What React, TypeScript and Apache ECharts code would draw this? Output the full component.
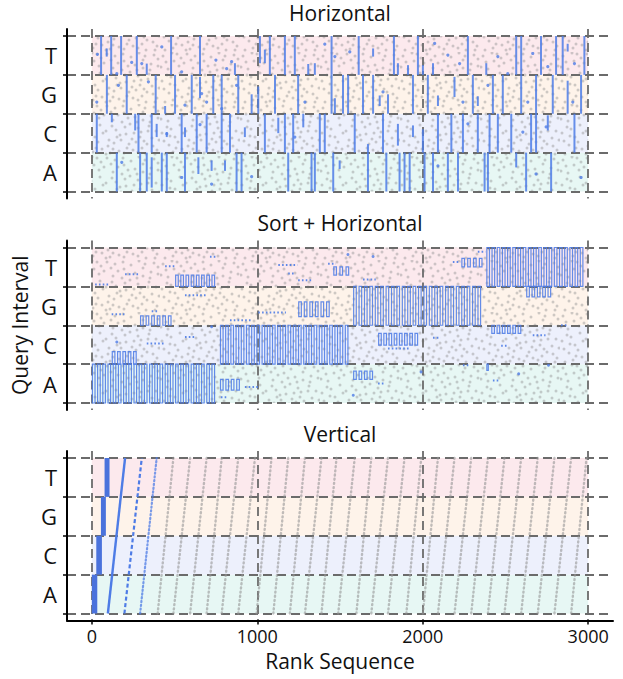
import React, { useEffect, useRef } from "react";
import * as echarts from "echarts";

// ---------------- data ----------------
const BANDS = ["A", "C", "G", "T"];
const BAND_EDGES = [0, 1, 2, 3, 4];
const BAND_CENTERS = [0.5, 1.5, 2.5, 3.5];
const X_TICKS = [0, 1000, 2000, 3000];
const RANK_RANGE = [0, 3000];
const PANEL_TITLES = ["Horizontal", "Sort + Horizontal", "Vertical"];

// Panel 1 (Horizontal): ranks where a blue run spans the full band
const H_FULL_A = [151, 292, 332, 423, 453, 563, 875, 905, 1187, 1328, 1348, 1459, 1669, 1780, 1860, 1890, 1921, 2011, 2062, 2152, 2213, 2374, 2394, 2625, 2776];
const H_FULL_C = [30, 282, 362, 543, 634, 694, 785, 835, 1046, 1167, 1217, 1378, 1408, 1589, 1760, 2092, 2173, 2243, 2333, 2404, 2454, 2535, 2655, 2685, 2917];
const H_FULL_G = [91, 211, 386, 503, 604, 734, 785, 885, 1107, 1247, 1449, 1518, 1549, 1639, 1700, 1941, 2031, 2303, 2424, 2484, 2595, 2685, 2786, 2957];
const H_FULL_T = [56, 117, 177, 272, 479, 654, 1076, 1167, 1227, 1449, 1613, 1826, 1971, 2273, 2565, 2595, 2715, 2806, 2846, 2977];
// partial runs: [rank, from, to]
const H_PART = [
  [90, 3.47, 3.68], [332, 3, 3.29], [865, 3, 3.3], [1016, 3.3, 4], [1046, 3.3, 3.65], [1308, 3, 3.28], [1348, 3, 3.3],
  [1700, 3.47, 3.68], [1850, 3, 3.3], [1911, 3, 3.25], [2001, 3, 3.25], [2062, 3, 3.3], [2384, 3, 3.3], [2876, 3.6, 3.8],
  [443, 2, 2.2], [654, 2.4, 2.95], [966, 2, 2.5], [1006, 2, 2.7], [1469, 2, 2.4], [1740, 2.2, 2.47], [1790, 2, 2.5],
  [2092, 2.2, 2.47], [2192, 2.43, 2.95], [2333, 2.2, 2.45], [2876, 2, 2.85],
  [121, 1.78, 2], [262, 1.57, 2], [392, 1.4, 1.74], [453, 1.4, 1.53], [563, 1.4, 1.65], [925, 1.4, 1.65], [1127, 1.5, 1.9],
  [1278, 1.65, 2], [1669, 1, 1.22], [1850, 1.18, 1.74], [1941, 1.4, 1.7], [2001, 1, 1.6], [2756, 1.57, 1.96],
  [362, 0.1, 0.88], [644, 0.45, 0.88], [724, 0.53, 0.8], [805, 0.53, 0.8], [1498, 0.58, 0.8], [2565, 0.62, 1],
];
// isolated blue hits: [rank, position]
const H_DOTS = [
  [34, 3.53], [241, 3.32], [302, 3.29], [151, 3.03], [423, 3.72], [543, 3.08], [750, 3.38], [815, 3.16], [845, 3.34],
  [1408, 3.79], [1469, 3.47], [1559, 3.59], [2072, 3.81], [2152, 3.51], [2223, 3.29], [2454, 3.47], [2514, 3.03],
  [2665, 3.55], [2756, 3.21], [2917, 3.29],
  [30, 2.3], [161, 2.73], [342, 2.82], [563, 2.22], [664, 2.52], [694, 2.3], [875, 2.73], [785, 2.13], [1288, 2.3],
  [1760, 2.56], [2243, 2.3], [2635, 2.3], [2907, 2.3], [2394, 2.73],
  [453, 1.48], [654, 1.72], [1227, 1.4], [2273, 1.74], [2746, 1.66], [2605, 1.53],
  [181, 0.75], [543, 0.36], [724, 0.19], [966, 0.38], [2092, 0.66], [2685, 0.45], [2957, 0.36],
];

// Panel 2 (Sort + Horizontal): blocks of runs [rankFrom, rankTo, posFrom, posTo]
const S_BLOCKS = [
  [0, 754, 0, 1], [774, 905, 0.33, 0.61], [1579, 1710, 0.61, 0.82], [2384, 2394, 0.84, 1],
  [774, 1560, 1, 2], [120, 281, 1, 1.32], [1730, 1981, 1.49, 1.79], [2414, 2605, 1.79, 2],
  [1579, 2363, 2, 3], [291, 493, 2, 2.24], [1247, 1449, 2.22, 2.6], [2625, 2786, 2.73, 3],
  [2384, 2980, 3, 4], [503, 754, 3, 3.29], [1459, 1570, 3.29, 3.5], [2233, 2374, 3.5, 3.72],
];
// rows of blue hits [rankFrom, rankTo, position]
const S_DOT_RUNS = [
  [925, 1000, 0.41], [780, 810, 0.15], [1730, 1770, 0.5], [2243, 2283, 0.97], [2424, 2454, 0.58],
  [332, 432, 1.53], [563, 624, 1.7], [1790, 1921, 1.4], [2062, 2102, 1.68], [2474, 2514, 1.47], [2665, 2736, 1.74],
  [835, 965, 2.13], [120, 191, 2.28], [362, 392, 2.36], [563, 694, 2.77], [1006, 1167, 2.33], [2836, 2876, 2.0],
  [20, 100, 3.05], [201, 282, 3.31], [443, 493, 3.52], [714, 754, 3.76], [1127, 1237, 3.55], [1187, 1227, 3.33],
  [1247, 1328, 3.16], [1428, 1469, 3.58], [1639, 1710, 3.18], [2182, 2223, 3.63], [2333, 2374, 3.89],
];
const S_DOTS = [[151, 1.57], [724, 1.96], [1990, 0.8], [1580, 0.2], [2580, 0.75], [2760, 0.97], [1548, 3.82], [1700, 3.77]];

// Panel 3 (Vertical)
const V_BARS = [[0, 33, 0], [27, 61, 1], [55, 85, 2], [77, 107, 3]]; // [rankFrom, rankTo, band]
const V_SWEEP_SOLID = [[97, 201]];
const V_SWEEP_DASHED = [[197, 302]];
const V_SWEEP_FAINT = [[292, 392]];
const V_SWEEP_GRAY = [
  [398, 493], [493, 594], [594, 694], [694, 785], [785, 885], [885, 986], [996, 1086], [1097, 1187], [1197, 1288],
  [1288, 1388], [1388, 1479], [1489, 1589], [1599, 1689], [1689, 1790], [1790, 1890], [1901, 1991], [2001, 2092],
  [2092, 2192], [2192, 2293], [2293, 2394], [2394, 2494], [2494, 2595], [2595, 2695], [2695, 2796], [2796, 2897], [2897, 2990],
];

// ---------------- style ----------------
const FONT = '"Open Sans", "Noto Sans", sans-serif';
const BLUE = "#4e7ce6";
const BAND_FILLS = ["#e7f7f4", "#edf0fc", "#fef3ea", "#fce9ed"];
const GRID_TOPS = [29, 240.5, 451];
const GRID_H = 169.5;
const TITLE_Y = [13, 223, 433.5];
const DASHED = { type: [9, 5], color: "#6b6b6b", width: 1.8 };
// background noise texture tile (style only)
const TEXTURE_TILE = [
  [3, 4], [14, 9], [27, 2], [38, 11], [51, 5], [63, 8], [74, 3], [8, 17], [20, 21], [33, 16], [45, 23], [57, 18],
  [69, 22], [78, 14], [2, 29], [15, 33], [26, 27], [40, 31], [52, 35], [61, 28], [72, 34], [9, 41], [22, 45], [34, 39],
  [47, 44], [58, 48], [67, 40], [77, 46], [5, 50], [18, 38], [30, 49], [43, 2], [55, 13], [66, 50], [11, 25], [24, 11],
  [36, 26], [49, 40], [60, 33], [71, 12], [1, 15], [17, 2], [29, 36], [42, 18], [54, 29], [65, 4], [76, 27], [13, 48],
  [39, 47], [50, 20], [31, 8], [62, 44], [6, 10], [19, 14], [32, 22], [44, 9], [58, 24], [70, 18], [79, 36], [4, 37],
  [16, 44], [28, 42], [41, 36], [53, 46], [64, 37], [75, 50], [10, 32], [23, 29], [35, 4], [46, 30], [59, 1], [68, 27],
  [7, 23], [21, 6], [37, 33], [48, 14], [56, 38], [73, 42], [12, 1], [26, 50], [44, 49], [63, 16], [78, 7], [33, 45],
];
const TILE_W = 80;
const TILE_H = 52;

function textureFill() {
  const circles = TEXTURE_TILE.map(
    ([x, y]) => `<circle cx='${x}' cy='${y}' r='1.5' fill='#8c8c8c' fill-opacity='0.42'/>`
  ).join("");
  const svg = `<svg xmlns='http://www.w3.org/2000/svg' width='${TILE_W}' height='${TILE_H}'>${circles}</svg>`;
  return {
    image: "data:image/svg+xml;charset=utf-8," + encodeURIComponent(svg),
    repeat: "repeat",
    imageWidth: TILE_W,
    imageHeight: TILE_H,
  };
}

function buildOption() {
  const grids = GRID_TOPS.map((top) => ({
    left: 67, right: 10, top, height: GRID_H, containLabel: false, outerBoundsMode: "none",
  }));
  const xAxes = [0, 1, 2].map((i) => ({
    gridIndex: i, type: "value", min: -150, max: 3150, z: 1,
    axisLine: { show: i === 2, onZero: false, lineStyle: { color: "#000", width: 2 } },
    axisTick: { show: i === 2, customValues: X_TICKS, length: 4, lineStyle: { color: "#000", width: 1.5 } },
    axisLabel: {
      show: i === 2, customValues: X_TICKS, fontSize: 18, color: "#111", fontFamily: FONT, margin: 6,
      formatter: (v: number) => String(v),
    },
    splitLine: { show: true, lineStyle: DASHED },
    name: i === 2 ? "Rank Sequence" : "",
    nameLocation: "middle",
    nameGap: 30,
    nameTextStyle: { fontSize: 21, fontFamily: FONT, color: "#111" },
  }));
  const yAxes = [0, 1, 2].map((i) => ({
    gridIndex: i, type: "value", min: -0.18, max: 4.18, z: 1,
    axisLine: { show: true, onZero: false, lineStyle: { color: "#000", width: 2 } },
    axisTick: { show: true, customValues: BAND_EDGES, length: 4, lineStyle: { color: "#000", width: 1.5 } },
    axisLabel: {
      customValues: BAND_CENTERS, fontSize: 22, color: "#111", fontFamily: FONT, margin: 10,
      formatter: (v: number) => BANDS[Math.floor(v)],
    },
    splitLine: { show: true, lineStyle: DASHED },
    name: i === 1 ? "Query Interval" : "",
    nameLocation: "middle",
    nameGap: 27,
    nameTextStyle: { fontSize: 21, fontFamily: FONT, color: "#111" },
  }));

  const series: any[] = [];
  const tex = textureFill();

  for (let g = 0; g < 3; g++) {
    series.push({
      type: "custom", xAxisIndex: g, yAxisIndex: g, z: 0, silent: true,
      data: BANDS.map((_, b) => [RANK_RANGE[0], RANK_RANGE[1], b]),
      renderItem: (_p: any, api: any) => {
        const b = api.value(2);
        const p0 = api.coord([api.value(0), BAND_EDGES[b + 1]]);
        const p1 = api.coord([api.value(1), BAND_EDGES[b]]);
        return {
          type: "rect",
          shape: { x: p0[0], y: p0[1], width: p1[0] - p0[0], height: p1[1] - p0[1] },
          style: { fill: BAND_FILLS[b] },
        };
      },
    });
    if (g < 2) {
      series.push({
        type: "custom", xAxisIndex: g, yAxisIndex: g, z: 0.5, silent: true,
        data: [[RANK_RANGE[0], RANK_RANGE[1]]],
        renderItem: (_p: any, api: any) => {
          const p0 = api.coord([api.value(0), BAND_EDGES[4]]);
          const p1 = api.coord([api.value(1), BAND_EDGES[0]]);
          return {
            type: "rect",
            shape: { x: p0[0], y: p0[1], width: p1[0] - p0[0], height: p1[1] - p0[1] },
            style: { fill: tex },
          };
        },
      });
    }
  }

  // Panel 1
  const hFull = [H_FULL_A, H_FULL_C, H_FULL_G, H_FULL_T];
  const hSegs = hFull.flatMap((xs, b) => xs.map((x) => [x, BAND_EDGES[b], BAND_EDGES[b + 1]])).concat(H_PART);
  series.push({
    type: "custom", xAxisIndex: 0, yAxisIndex: 0, z: 2, silent: true, data: hSegs,
    renderItem: (_p: any, api: any) => {
      const a = api.coord([api.value(0), api.value(1)]);
      const b = api.coord([api.value(0), api.value(2)]);
      return {
        type: "line",
        shape: { x1: a[0], y1: a[1], x2: b[0], y2: b[1] },
        style: { stroke: BLUE, lineWidth: 2, opacity: 0.85 },
      };
    },
  });
  series.push({
    type: "scatter", xAxisIndex: 0, yAxisIndex: 0, z: 2, silent: true, data: H_DOTS,
    symbolSize: 3.2, itemStyle: { color: BLUE },
  });

  // Panel 2
  series.push({
    type: "custom", xAxisIndex: 1, yAxisIndex: 1, z: 2, silent: true, data: S_BLOCKS,
    renderItem: (_p: any, api: any) => {
      const p0 = api.coord([api.value(0), api.value(3)]);
      const p1 = api.coord([api.value(1), api.value(2)]);
      const w = Math.max(p1[0] - p0[0], 2.6);
      const n = Math.max(1, Math.round(w / 5.3));
      const pitch = w / n;
      const children: any[] = [];
      for (let k = 0; k < n; k++) {
        children.push({
          type: "rect",
          shape: { x: p0[0] + k * pitch + 0.6, y: p0[1], width: Math.min(2.6, pitch * 0.55), height: p1[1] - p0[1] },
          style: { fill: "none", stroke: BLUE, lineWidth: 1.2, opacity: 0.88 },
        });
      }
      return { type: "group", children };
    },
  });
  series.push({
    type: "custom", xAxisIndex: 1, yAxisIndex: 1, z: 2, silent: true, data: S_DOT_RUNS,
    renderItem: (_p: any, api: any) => {
      const a = api.coord([api.value(0), api.value(2)]);
      const b = api.coord([api.value(1), api.value(2)]);
      return {
        type: "line",
        shape: { x1: a[0], y1: a[1], x2: b[0] + 1, y2: b[1] },
        style: { stroke: BLUE, lineWidth: 2, lineDash: [1.6, 2.2], opacity: 0.9 },
      };
    },
  });
  series.push({
    type: "scatter", xAxisIndex: 1, yAxisIndex: 1, z: 2, silent: true, data: S_DOTS,
    symbolSize: 3, itemStyle: { color: BLUE },
  });

  // Panel 3
  const sweep = (data: number[][], style: any) => ({
    type: "custom", xAxisIndex: 2, yAxisIndex: 2, z: 2, silent: true, data,
    renderItem: (_p: any, api: any) => {
      const a = api.coord([api.value(0), BAND_EDGES[0]]);
      const b = api.coord([api.value(1), BAND_EDGES[4]]);
      return { type: "line", shape: { x1: a[0], y1: a[1], x2: b[0], y2: b[1] }, style };
    },
  });
  series.push(sweep(V_SWEEP_GRAY, { stroke: "rgba(150,150,150,0.6)", lineWidth: 2.4, lineDash: [1, 3.2], lineCap: "round" }));
  series.push(sweep(V_SWEEP_FAINT, { stroke: "rgba(78,124,230,0.75)", lineWidth: 2.2, lineDash: [1.2, 2.6], lineCap: "round" }));
  series.push(sweep(V_SWEEP_DASHED, { stroke: BLUE, lineWidth: 2.2, lineDash: [4, 2.5] }));
  series.push(sweep(V_SWEEP_SOLID, { stroke: BLUE, lineWidth: 2.4 }));
  series.push({
    type: "custom", xAxisIndex: 2, yAxisIndex: 2, z: 2, silent: true, data: V_BARS,
    renderItem: (_p: any, api: any) => {
      const b = api.value(2);
      const p0 = api.coord([api.value(0), BAND_EDGES[b + 1]]);
      const p1 = api.coord([api.value(1), BAND_EDGES[b]]);
      return {
        type: "rect",
        shape: { x: p0[0], y: p0[1], width: p1[0] - p0[0], height: p1[1] - p0[1] },
        style: { fill: "#4a72dc" },
      };
    },
  });

  return {
    animation: false,
    backgroundColor: "#fff",
    grid: grids,
    xAxis: xAxes,
    yAxis: yAxes,
    graphic: PANEL_TITLES.map((t, i) => ({
      type: "text",
      x: 340,
      y: TITLE_Y[i],
      silent: true,
      style: {
        text: t, font: `21px ${FONT}`, fill: "#111", lineHeight: 22,
        align: "center", verticalAlign: "middle", textAlign: "center", textVerticalAlign: "middle",
      },
    })),
    series,
  };
}

export default function App() {
  const ref = useRef<HTMLDivElement>(null);
  useEffect(() => {
    if (!ref.current) return;
    const chart = echarts.init(ref.current, undefined, { renderer: "svg" });
    chart.setOption(buildOption() as any);
    return () => chart.dispose();
  }, []);
  return (
    <div
      ref={ref}
      style={{ position: "absolute", left: 0, top: 0, width: 623, height: 679, background: "#fff" }}
    />
  );
}
